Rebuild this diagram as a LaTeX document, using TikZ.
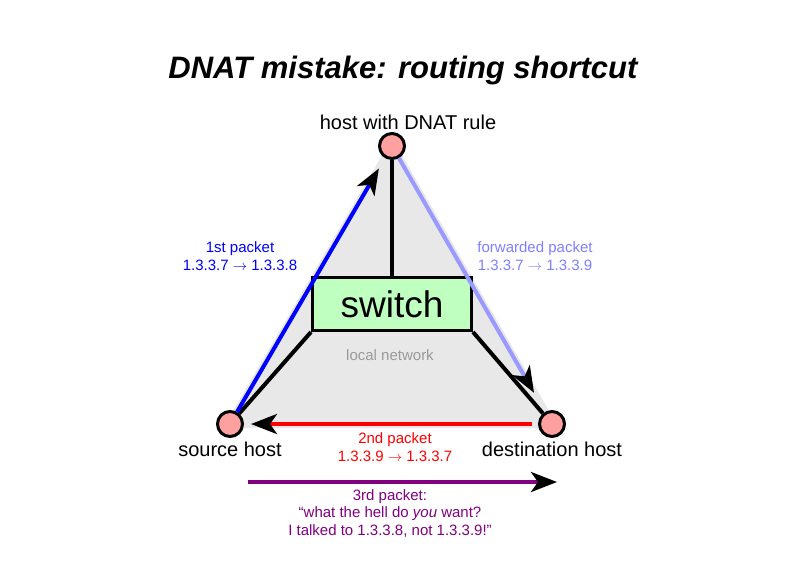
\documentclass[tikz,border=0pt]{standalone}
\usepackage{fontspec}
\setmainfont{Liberation Sans}
\usetikzlibrary{arrows.meta, backgrounds}

\definecolor{lanGray}{HTML}{E8E8E8}
\definecolor{hostPink}{HTML}{FFA0A0}
\definecolor{switchGreen}{HTML}{BFFFBF}
\definecolor{fwdBlue}{HTML}{9999FF}
\definecolor{fwdText}{HTML}{7F7FFF}
\definecolor{pktPurple}{HTML}{800080}

\begin{document}
\begin{tikzpicture}[
        x=1pt, y=-1pt,
        host/.style={circle, draw, line width=3pt, fill=hostPink, minimum size=25pt, inner sep=0pt},
        switchbox/.style={rectangle, draw, line width=3pt, fill=switchGreen, minimum width=159pt, minimum height=53pt, inner sep=0pt},
        link/.style={line width=4pt},
        packet/.style={line width=4pt, -{Stealth[black, length=26pt, width=20pt, inset=7pt]}},
        lbl/.style={font=\fontsize{20}{24}\selectfont, anchor=base},
        info/.style={font=\fontsize{15}{17.5}\selectfont, align=center, anchor=base}
    ]
    \useasboundingbox (0,0) rectangle (800,566);

    % Titel
    \node[font=\fontsize{31}{36}\selectfont\bfseries\itshape, anchor=base] (title) at (403,78) {DNAT mistake: routing shortcut};

    % Rechner
    \node[host] (dnat) at (392,146) {};
    \node[host] (src) at (230,424) {};
    \node[host] (dst) at (552,424) {};
    \node[lbl] (dnatLbl) at (408,129) {host with DNAT rule};
    \node[lbl] (srcLbl) at (230,456) {source host};
    \node[lbl] (dstLbl) at (552,456) {destination host};

    % Switch
    \node[switchbox, font=\fontsize{37}{40}\selectfont] (switch) at (392,304) {switch};
    \node[info, text=black!40] (lan) at (390,360) {local network};

    % Netz und Verbindungen
    \begin{scope}[on background layer]
        \filldraw[lanGray, line width=8pt, line join=round] (dnat.center) -- (src.center) -- (dst.center) -- cycle;
        \draw[link] (dnat) -- (switch);
        \draw[link] (switch.south west) -- (src);
        \draw[link] (switch.south east) -- (dst);
    \end{scope}

    % Pakete
    \draw[packet, blue, shorten >=12pt] (src) -- (dnat);
    \draw[packet, fwdBlue, shorten >=22pt] (dnat) -- (dst);
    \draw[packet, red, shorten >=7pt, shorten <=6pt] (dst) -- (src);
    \coordinate (p3a) at (248,482);
    \coordinate (p3b) at (557,482);
    \draw[packet, pktPurple] (p3a) -- (p3b);

    % Beschriftung der Pakete (base = letzte Zeile)
    \node[info, text=blue] (pkt1) at (240,270) {1st packet\\1.3.3.7 $\rightarrow$ 1.3.3.8};
    \node[info, text=fwdText] (pkt2) at (535,270) {forwarded packet\\1.3.3.7 $\rightarrow$ 1.3.3.9};
    \node[info, text=red] (pkt3) at (395,461) {2nd packet\\1.3.3.9 $\rightarrow$ 1.3.3.7};
    \node[info, text=pktPurple] (pkt4) at (390,535) {3rd packet:\\“what the hell do \textit{you} want?\\I talked to 1.3.3.8, not 1.3.3.9!”};

\end{tikzpicture}
\end{document}
